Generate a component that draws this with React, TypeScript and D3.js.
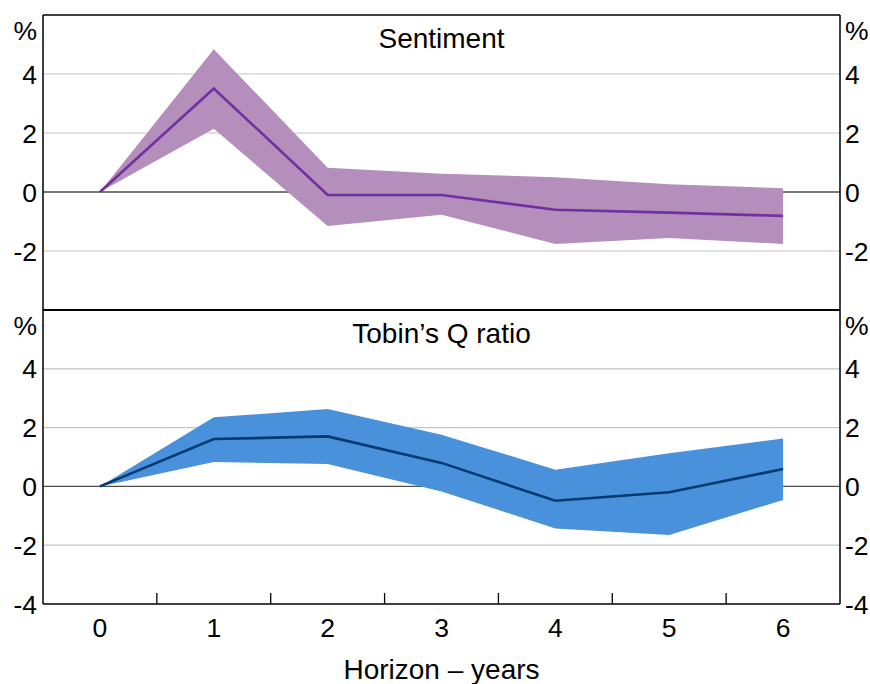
import React from "react";
import * as d3 from "d3";

const horizons = [0, 1, 2, 3, 4, 5, 6];

const sentimentMid = [0, 3.51, -0.1, -0.1, -0.6, -0.7, -0.81];
const sentimentUpper = [0, 4.84, 0.82, 0.62, 0.5, 0.26, 0.13];
const sentimentLower = [0, 2.14, -1.15, -0.77, -1.76, -1.56, -1.76];

const tobinMid = [0, 1.61, 1.7, 0.8, -0.49, -0.2, 0.59];
const tobinUpper = [0, 2.35, 2.63, 1.76, 0.57, 1.13, 1.63];
const tobinLower = [0, 0.83, 0.76, -0.17, -1.43, -1.65, -0.46];

const yTicksTop = [-2, 0, 2, 4];
const yTicksBottom = [-4, -2, 0, 2, 4];
const gridValues = [-2, 2, 4];

const panelTitles = ["Sentiment", "Tobin\u2019s Q ratio"];
const xAxisTitle = "Horizon \u2013 years";
const unitLabel = "%";

const W = 870;
const H = 684;
const L = 43;
const R = 840;
const T = 15;
const MID = 310;
const B = 604;
const FONT = "'Liberation Sans', Arial, Helvetica, sans-serif";
const TICK_FS = 26.5;
const TITLE_FS = 28;

type PanelProps = {
  y: d3.ScaleLinear<number, number>;
  mid: number[];
  upper: number[];
  lower: number[];
  band: string;
  line: string;
  title: string;
  ticks: number[];
  top: number;
};

const x = d3.scaleBand<number>().domain(horizons).range([L, R]).padding(0);
const cx = (h: number) => (x(h) as number) + x.bandwidth() / 2;

function Panel({ y, mid, upper, lower, band, line, title, ticks, top }: PanelProps) {
  const area = d3
    .area<number>()
    .x((h) => cx(h))
    .y0((h, i) => y(lower[i]))
    .y1((h, i) => y(upper[i]));
  const ln = d3
    .line<number>()
    .x((h) => cx(h))
    .y((h, i) => y(mid[i]));
  return (
    <g>
      {gridValues.map((v) => (
        <line key={"g" + v} x1={L} x2={R} y1={y(v)} y2={y(v)} stroke="#c4c4c4" strokeWidth={1.2} />
      ))}
      <line x1={L} x2={R} y1={y(0)} y2={y(0)} stroke="#4d4d4d" strokeWidth={1.3} />
      <path d={area(horizons) || ""} fill={band} />
      <path d={ln(horizons) || ""} fill="none" stroke={line} strokeWidth={2.6} strokeLinejoin="miter" />
      <text x={(L + R) / 2} y={top + 33} textAnchor="middle" fontSize={TITLE_FS} fontFamily={FONT} fill="#000">
        {title}
      </text>
      <text x={37} y={top + 25} textAnchor="end" fontSize={TICK_FS} fontFamily={FONT} fill="#000">
        {unitLabel}
      </text>
      <text x={845} y={top + 25} textAnchor="start" fontSize={TICK_FS} fontFamily={FONT} fill="#000">
        {unitLabel}
      </text>
      {ticks.map((v) => (
        <g key={"t" + v}>
          <text x={37} y={y(v)} dy="0.36em" textAnchor="end" fontSize={TICK_FS} fontFamily={FONT} fill="#000">
            {v}
          </text>
          <text x={845} y={y(v)} dy="0.36em" textAnchor="start" fontSize={TICK_FS} fontFamily={FONT} fill="#000">
            {v}
          </text>
        </g>
      ))}
    </g>
  );
}

export default function App() {
  const yTop = d3.scaleLinear().domain([-4, 6]).range([MID, T]);
  const yBottom = d3.scaleLinear().domain([-4, 6]).range([B, MID]);
  const boundaries = horizons.slice(1).map((h) => x(h) as number);
  return (
    <svg
      width={W}
      height={H}
      viewBox={`0 0 ${W} ${H}`}
      style={{ position: "absolute", left: 0, top: 0, display: "block", background: "#fff" }}
    >
      <rect x={0} y={0} width={W} height={H} fill="#fff" />
      <Panel
        y={yTop}
        mid={sentimentMid}
        upper={sentimentUpper}
        lower={sentimentLower}
        band="#b48fbb"
        line="#7030a0"
        title={panelTitles[0]}
        ticks={yTicksTop}
        top={T}
      />
      <Panel
        y={yBottom}
        mid={tobinMid}
        upper={tobinUpper}
        lower={tobinLower}
        band="#4a91dc"
        line="#003a70"
        title={panelTitles[1]}
        ticks={yTicksBottom}
        top={MID}
      />
      {boundaries.map((bx, i) => (
        <line key={"xt" + i} x1={bx} x2={bx} y1={B} y2={B - 11} stroke="#000" strokeWidth={1.3} />
      ))}
      {horizons.map((h) => (
        <text key={"xl" + h} x={cx(h)} y={637} textAnchor="middle" fontSize={TICK_FS} fontFamily={FONT} fill="#000">
          {h}
        </text>
      ))}
      <text x={(L + R) / 2} y={679} textAnchor="middle" fontSize={TITLE_FS} fontFamily={FONT} fill="#000">
        {xAxisTitle}
      </text>
      <line x1={L} x2={R} y1={T} y2={T} stroke="#000" strokeWidth={1.3} />
      <line x1={L} x2={R} y1={MID} y2={MID} stroke="#000" strokeWidth={2} />
      <line x1={L} x2={R} y1={B} y2={B} stroke="#000" strokeWidth={1.5} />
      <line x1={L} x2={L} y1={T} y2={B} stroke="#000" strokeWidth={1.5} />
      <line x1={R} x2={R} y1={T} y2={B} stroke="#000" strokeWidth={1.5} />
    </svg>
  );
}
